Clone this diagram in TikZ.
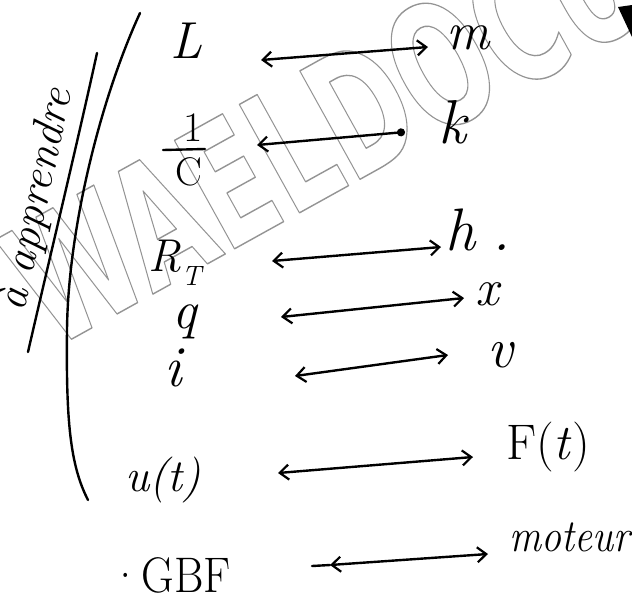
\documentclass[tikz,border=0pt]{standalone}
\usepackage{fontspec}
\usetikzlibrary{arrows.meta}

% condensed bold face for the hollow stamp lettering
\newfontfamily\markfont{DejaVu Sans Condensed Bold}
\newcommand\fsz[1]{\fontsize{#1}{#1}\selectfont}
% stroke the glyph outlines instead of filling them
\newcommand\hollow[1]{\special{pdf:literal direct 1 Tr 1.4 w 1 j}#1\special{pdf:literal direct 0 Tr}}

\begin{document}
\begin{tikzpicture}[x=1pt,y=-1pt,
  ink/.style={line width=2.4pt, line cap=round, line join=round},
  barb/.tip={Straight Barb[length=9pt,width=15pt,line width=2.2pt]},
  link/.style={ink, barb-barb},
  sym/.style={inner sep=0pt},
]
\useasboundingbox (0,0) rectangle (632,598);
\fill[white] (0,0) rectangle (632,598);

% stamp lettering across the sheet
\node[rotate=29, xscale=0.71, anchor=base west, inner sep=0pt,
      text=black!42, font=\markfont\fsz{170}] (stamp) at (52,350) {\hollow{WAELDOCU}};
\fill (618,7) -- (632,5) -- (632,37) -- cycle;

% side note and its underline
\node[rotate=78, sym, font=\itshape\fsz{45}] (note) at (37,200) {à apprendre};
\coordinate (ulA) at (97,53);
\coordinate (ulB) at (28,352);
\draw[ink] (ulA) .. controls (78,140) and (48,265) .. (ulB);

% grouping bracket
\coordinate (brA) at (140,13);
\coordinate (brM) at (67,330);
\coordinate (brB) at (88,500);
\draw[ink] (brA) .. controls (100,100) and (68,230) .. (brM)
               .. controls (66,420) and (70,465) .. (brB);

% electrical quantities
\node[sym, font=\itshape\fsz{52}] (L) at (186,41) {L};
\node[sym, font=\fsz{42}] (one) at (193,128) {1};
\node[sym, font=\fsz{40}] (C) at (189,172) {C};
\coordinate (barL) at (163,150); \coordinate (barR) at (205,149);
\draw[ink] (barL) -- (barR);
\node[sym, font=\itshape\fsz{46}] (RT) at (175,263) {R\raisebox{-0.3em}{\fsz{28}T}};
\node[sym, font=\itshape\fsz{54}] (q) at (185,322) {q};
\node[sym, font=\itshape\fsz{58}] (i) at (173,368) {i};
\node[sym, font=\itshape\fsz{46}] (u) at (163,480) {u(t)};
\node[sym, font=\fsz{50}, xscale=0.9] (gbf) at (170,575) {·GBF};

% mechanical counterparts
\node[sym, font=\itshape\fsz{54}] (m) at (468,38) {m};
\node[sym, font=\itshape\fsz{62}] (k) at (452,122) {k};
\node[sym, font=\itshape\fsz{60}] (h) at (478,230) {h\;.};
\node[sym, font=\itshape\fsz{52}] (x) at (487,294) {x};
\node[sym, font=\itshape\fsz{57}] (v) at (500,355) {v};
\node[sym, font=\fsz{50}] (F) at (548,447) {F(\textit{t})};
\node[sym, font=\itshape\fsz{40}, yscale=1.15] (mot) at (570,537) {moteur};

% correspondence arrows
\coordinate (a1) at (261,60);  \coordinate (b1) at (428,47);
\coordinate (a2) at (257,145); \coordinate (b2) at (405,132);
\coordinate (a3) at (272,261); \coordinate (b3) at (441,247);
\coordinate (a4) at (281,317); \coordinate (b4) at (464,298);
\coordinate (a5) at (295,376); \coordinate (b5) at (448,355);
\coordinate (a6) at (278,473); \coordinate (b6) at (473,457);
\coordinate (a7) at (312,566); \coordinate (c7) at (330,565); \coordinate (b7) at (488,554);

\draw[link] (a1) -- (b1);
\draw[ink, barb-{Circle[length=8pt]}] (a2) -- (b2);
\draw[link] (a3) -- (b3);
\draw[link] (a4) -- (b4);
\draw[link] (a5) -- (b5);
\draw[link] (a6) -- (b6);
\draw[link] (c7) -- (b7);
\draw[ink] (a7) -- (c7);
\end{tikzpicture}
\end{document}
